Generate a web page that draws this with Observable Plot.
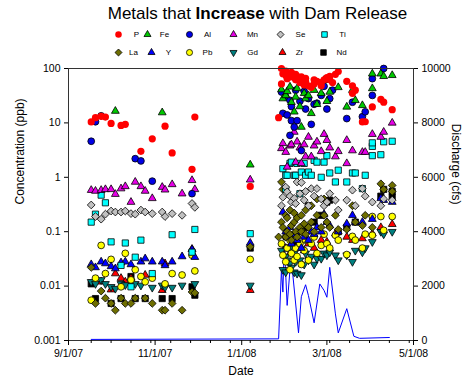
<!DOCTYPE html>
<html><head><meta charset="utf-8">
<script src="https://cdn.jsdelivr.net/npm/d3@7"></script>
<script src="https://cdn.jsdelivr.net/npm/@observablehq/plot@0.6"></script>
<style>
body{margin:0;background:#fff;font-family:"Liberation Sans",Arial,sans-serif;}
#wrap{position:relative;width:465px;height:382px;overflow:hidden;}
#wrap svg{position:absolute;left:0;top:0;}
#title{position:absolute;top:4px;left:0;width:515px;text-align:center;font-size:17px;color:#000;z-index:3;white-space:nowrap;}
</style></head><body>
<div id="wrap"><div id="title">Metals that <b>Increase</b> with Dam Release</div></div>
<script>
// ---------- data ----------
const xTickLabels = ["9/1/07", "11/1/07", "1/1/08", "3/1/08", "5/1/08"];
const yTicks = [0.001, 0.01, 0.1, 1, 10, 100];
const dischargeTicks = [0, 2000, 4000, 6000, 8000, 10000];
const seriesNames = ["P", "Fe", "Al", "Mn", "Se", "Ti", "La", "Y", "Pb", "Gd", "Zr", "Nd"];

const P = [["9/17/07",10.4],["9/20/07",12.5],["9/24/07",13.2],["9/27/07",12.8],["10/1/07",9.8],["10/8/07",9.0],["10/11/07",9.4],["10/22/07",3.0],["10/30/07",5.1],["11/8/07",8.7],["11/13/07",2.8],["11/27/07",1.4],["11/29/07",12.8],["1/7/08",0.68],
["1/27/08",12.5],["1/29/08",100],["1/29/08",52],["1/30/08",80],["2/1/08",75],["2/1/08",90],["2/2/08",65],["2/2/08",80],["2/4/08",70],["2/5/08",85],["2/5/08",72],["2/7/08",68],["2/8/08",62],["2/8/08",78],["2/9/08",72],["2/11/08",55],["2/12/08",60],["2/12/08",70],["2/14/08",50],["2/15/08",66],["2/15/08",58],["2/17/08",48],["2/19/08",45],["2/21/08",52],["2/21/08",62],["2/23/08",58],["2/26/08",48],["2/26/08",55],["2/28/08",62],["3/1/08",68],["3/3/08",72],["3/3/08",62],["3/5/08",55],["3/7/08",78],["3/9/08",88],["3/15/08",58],["3/19/08",48],["3/19/08",35],["3/21/08",40],["3/26/08",10.4],["3/28/08",10.5],["4/2/08",19.7],["4/8/08",27],["4/10/08",24],["4/16/08",17.5]];
const Fe = [["10/4/07",16.5],["11/6/07",15.5],["1/7/08",1.7],
["1/29/08",41],["1/30/08",28],["2/1/08",32],["2/2/08",38],["2/4/08",46],["2/5/08",24],["2/7/08",16],["2/8/08",30],["2/9/08",43],["2/11/08",20],["2/12/08",8.4],["2/14/08",35],["2/15/08",28],["2/17/08",32],["2/19/08",15],["2/21/08",40],["2/23/08",22],["2/26/08",35],["2/28/08",61],["3/1/08",25],["3/3/08",37],["3/9/08",45],["3/15/08",19.7],["3/19/08",40],["3/21/08",26],["3/26/08",21],["4/2/08",80],["4/2/08",43],["4/8/08",80],["4/10/08",72],["4/16/08",75]];
const Al = [["9/17/07",4.6],["9/20/07",10.5],["9/24/07",13.5],["10/18/07",2.2],["10/22/07",2.0],["10/30/07",0.85],["11/27/07",0.5],
["1/29/08",37],["1/30/08",15],["2/1/08",30],["2/2/08",14],["2/4/08",26],["2/4/08",5.9],["2/5/08",11],["2/5/08",20],["2/7/08",8.4],["2/8/08",40],["2/9/08",11],["2/11/08",25],["2/12/08",3.1],["2/14/08",38],["2/15/08",18],["2/17/08",28],["2/19/08",9.4],["2/21/08",22],["2/23/08",23],["2/26/08",32],["2/28/08",47],["3/1/08",18],["3/3/08",28],["3/5/08",40],["3/15/08",12],["3/19/08",24],["3/26/08",13],["3/28/08",16],["4/2/08",65],["4/2/08",32],["4/10/08",100]];
const Mn = [["9/17/07",0.58],["9/20/07",0.56],["9/24/07",0.58],["9/27/07",0.6],["10/1/07",0.6],["10/4/07",0.49],["10/8/07",0.62],["10/11/07",0.68],["10/15/07",0.35],["10/18/07",0.82],["10/22/07",0.68],["10/25/07",0.56],["10/30/07",0.41],["11/6/07",0.66],["11/8/07",0.59],["11/13/07",0.74],["11/20/07",0.5],["11/27/07",0.88],["11/29/07",0.6],["1/7/08",0.9],
["1/29/08",3.4],["1/30/08",4.2],["2/1/08",2.9],["2/2/08",1.55],["2/4/08",3.8],["2/5/08",4.0],["2/7/08",6.8],["2/8/08",1.9],["2/9/08",4.5],["2/11/08",3.5],["2/12/08",1.8],["2/14/08",4.0],["2/15/08",2.4],["2/17/08",5.5],["2/19/08",2.4],["2/21/08",3.8],["2/23/08",4.5],["2/26/08",3.0],["2/28/08",6.2],["3/1/08",4.8],["3/3/08",3.5],["3/7/08",2.4],["3/9/08",3.0],["3/15/08",4.8],["3/15/08",1.8],["3/19/08",3.1],["3/26/08",2.9],["3/28/08",2.9],["4/2/08",6.2],["4/8/08",5.5],["4/10/08",6.8],["4/16/08",10]];
const Se = [["9/17/07",0.31],["9/20/07",0.19],["9/24/07",0.17],["9/27/07",0.21],["10/1/07",0.24],["10/4/07",0.23],["10/8/07",0.23],["10/11/07",0.24],["10/15/07",0.215],["10/18/07",0.21],["10/22/07",0.25],["10/25/07",0.23],["10/30/07",0.215],["11/6/07",0.23],["11/8/07",0.19],["11/13/07",0.215],["11/20/07",0.2],["11/27/07",0.33],["11/29/07",0.28],
["1/29/08",0.3],["1/30/08",0.43],["2/1/08",0.66],["2/2/08",0.54],["2/4/08",0.45],["2/5/08",0.35],["2/7/08",0.41],["2/8/08",0.33],["2/9/08",0.82],["2/11/08",0.5],["2/12/08",0.8],["2/14/08",0.38],["2/15/08",0.55],["2/17/08",0.3],["2/19/08",0.62],["2/21/08",0.45],["2/23/08",0.62],["2/26/08",0.4],["2/28/08",0.3],["3/1/08",0.35],["3/3/08",0.5],["3/7/08",0.38],["3/9/08",0.25],["3/15/08",0.38],["3/19/08",0.58],["3/21/08",0.3],["3/26/08",0.62],["3/28/08",0.45],["4/2/08",0.35],["4/8/08",0.3],["4/10/08",0.4],["4/16/08",0.38]];
const Ti = [["9/17/07",0.15],["9/20/07",0.21],["9/24/07",0.47],["9/27/07",0.34],["10/1/07",0.065],["10/8/07",0.024],["10/11/07",0.062],["10/15/07",0.0097],["10/18/07",0.034],["10/22/07",0.07],["10/30/07",0.017],["11/13/07",0.088],["11/27/07",0.042],["11/29/07",0.11],["1/7/08",0.092],
["1/30/08",1.44],["2/1/08",1.09],["2/1/08",0.6],["2/2/08",1.09],["2/4/08",1.8],["2/5/08",1.9],["2/7/08",1.09],["2/8/08",1.09],["2/9/08",1.8],["2/11/08",0.5],["2/12/08",1.25],["2/14/08",1.8],["2/15/08",1.09],["2/17/08",1.25],["2/19/08",1.09],["2/21/08",2.05],["2/23/08",1.9],["2/26/08",1.0],["2/28/08",1.9],["3/1/08",2.5],["3/3/08",1.2],["3/7/08",0.82],["3/9/08",1.35],["3/15/08",0.82],["3/19/08",1.2],["3/21/08",1.2],["3/26/08",0.62],["3/28/08",1.09],["4/2/08",2.5],["4/2/08",3.7],["4/2/08",4.3],["4/8/08",2.6],["4/10/08",4.5],["4/16/08",4.6]];
const La = [["9/17/07",0.022],["9/20/07",0.0048],["9/24/07",0.0081],["9/27/07",0.006],["10/1/07",0.0048],["10/4/07",0.0036],["10/8/07",0.006],["10/11/07",0.0048],["10/15/07",0.0048],["10/18/07",0.006],["10/25/07",0.006],["10/30/07",0.0048],["11/6/07",0.0036],["11/8/07",0.0036],["11/13/07",0.0048],["11/20/07",0.0036],["11/27/07",0.0078],["11/29/07",0.0075],["1/7/08",0.053],
["1/27/08",0.08],["1/29/08",0.82],["1/29/08",0.15],["1/30/08",0.6],["1/30/08",0.12],["2/1/08",0.2],["2/1/08",0.08],["2/2/08",0.1],["2/2/08",0.18],["2/4/08",0.25],["2/4/08",0.09],["2/5/08",0.13],["2/5/08",0.07],["2/7/08",0.15],["2/7/08",0.22],["2/8/08",0.1],["2/9/08",0.18],["2/9/08",0.08],["2/11/08",0.12],["2/12/08",0.2],["2/12/08",0.1],["2/14/08",0.14],["2/15/08",0.09],["2/15/08",0.25],["2/17/08",0.12],["2/19/08",0.3],["2/19/08",0.15],["2/21/08",0.1],["2/23/08",0.4],["2/23/08",0.2],["2/26/08",0.12],["2/28/08",0.4],["2/28/08",0.2],["3/1/08",0.15],["3/3/08",0.12],["3/7/08",0.2],["3/9/08",0.11],["3/15/08",0.11],["3/19/08",0.3],["3/21/08",0.15],["3/26/08",0.13],["3/28/08",0.2],["4/2/08",0.12],["4/8/08",0.76],["4/10/08",0.6],["4/16/08",0.71],["4/16/08",0.55]];
const Yt = [["9/17/07",0.025],["9/20/07",0.022],["9/24/07",0.028],["9/27/07",0.026],["10/1/07",0.023],["10/4/07",0.021],["10/8/07",0.027],["10/11/07",0.028],["10/15/07",0.025],["10/22/07",0.028],["10/25/07",0.032],["10/30/07",0.028],["11/6/07",0.028],["11/8/07",0.024],["11/13/07",0.028],["11/20/07",0.035],["11/27/07",0.047],["11/29/07",0.034],["1/7/08",0.062],
["1/30/08",0.23],["2/1/08",0.1],["2/2/08",0.08],["2/4/08",0.12],["2/5/08",0.06],["2/7/08",0.09],["2/9/08",0.07],["2/11/08",0.1],["2/12/08",0.05],["2/14/08",0.08],["2/17/08",0.07],["2/19/08",0.1],["2/21/08",0.09],["2/23/08",0.12],["2/26/08",0.1],["2/28/08",0.21],["3/1/08",0.15],["3/3/08",0.13],["3/9/08",0.1],["3/15/08",0.14],["3/19/08",0.2],["3/21/08",0.15],["3/26/08",0.15],["4/2/08",0.17],["4/8/08",0.41],["4/10/08",0.38],["4/16/08",0.35]];
const Pb = [["9/17/07",0.0055],["9/20/07",0.014],["9/24/07",0.056],["9/27/07",0.017],["10/1/07",0.031],["10/8/07",0.0097],["10/11/07",0.04],["10/15/07",0.013],["10/18/07",0.02],["10/22/07",0.015],["10/25/07",0.012],["10/30/07",0.014],["11/8/07",0.011],["11/13/07",0.017],["11/20/07",0.016],["11/27/07",0.037],["11/29/07",0.019],["1/7/08",0.031],
["1/29/08",0.06],["1/30/08",0.037],["2/1/08",0.028],["2/1/08",0.08],["2/2/08",0.05],["2/4/08",0.02],["2/4/08",0.07],["2/5/08",0.04],["2/7/08",0.03],["2/7/08",0.09],["2/8/08",0.05],["2/9/08",0.035],["2/11/08",0.06],["2/12/08",0.025],["2/12/08",0.1],["2/14/08",0.045],["2/15/08",0.07],["2/17/08",0.03],["2/19/08",0.06],["2/21/08",0.08],["2/23/08",0.04],["2/26/08",0.056],["2/28/08",0.09],["3/1/08",0.06],["3/3/08",0.05],["3/7/08",0.086],["3/9/08",0.07],["3/15/08",0.038],["3/19/08",0.082],["3/21/08",0.07],["3/26/08",0.05],["3/28/08",0.09],["4/2/08",0.19],["4/2/08",0.086],["4/8/08",0.19],["4/10/08",0.106],["4/16/08",0.19]];
const Gd = [["9/17/07",0.012],["9/20/07",0.011],["9/24/07",0.013],["9/27/07",0.011],["10/1/07",0.0097],["10/4/07",0.009],["10/8/07",0.011],["10/11/07",0.0105],["10/15/07",0.012],["10/18/07",0.011],["10/22/07",0.0103],["10/30/07",0.0094],["11/6/07",0.0103],["11/8/07",0.0095],["11/13/07",0.0094],["11/20/07",0.0103],["11/29/07",0.011],["1/7/08",0.0103],
["1/29/08",0.045],["1/30/08",0.02],["2/1/08",0.035],["2/1/08",0.018],["2/2/08",0.03],["2/4/08",0.026],["2/4/08",0.05],["2/5/08",0.022],["2/7/08",0.018],["2/7/08",0.04],["2/8/08",0.028],["2/9/08",0.017],["2/11/08",0.03],["2/12/08",0.016],["2/14/08",0.025],["2/15/08",0.04],["2/17/08",0.03],["2/19/08",0.035],["2/21/08",0.025],["2/23/08",0.032],["2/26/08",0.032],["2/28/08",0.04],["3/1/08",0.037],["3/3/08",0.042],["3/7/08",0.037],["3/9/08",0.03],["3/15/08",0.037],["3/19/08",0.028],["3/21/08",0.045],["3/26/08",0.042],["3/28/08",0.05],["4/2/08",0.065],["4/8/08",0.1],["4/10/08",0.09],["4/16/08",0.1]];
const Zr = [["9/24/07",0.012],["10/1/07",0.0086],["10/4/07",0.017],["10/8/07",0.014],["10/11/07",0.012],["10/15/07",0.014],["10/25/07",0.016],["11/6/07",0.0084],["11/8/07",0.026],["11/27/07",0.048],["1/7/08",0.0084],
["2/1/08",0.05],["2/4/08",0.04],["2/5/08",0.06],["2/8/08",0.035],["2/11/08",0.05],["2/14/08",0.045],["2/17/08",0.06],["2/21/08",0.05],["2/26/08",0.07],["3/1/08",0.065],["3/7/08",0.092],["3/15/08",0.08],["3/19/08",0.07],["3/26/08",0.075],["4/2/08",0.092],["4/8/08",0.12],["4/16/08",0.137]];
const Nd = [["9/17/07",0.011],["9/20/07",0.0059],["10/1/07",0.0048],["10/8/07",0.0059],["10/15/07",0.015],["10/18/07",0.0059],["10/25/07",0.0059],["11/6/07",0.0059],["11/13/07",0.0059],["11/27/07",0.0097],["11/29/07",0.0068],["1/7/08",0.05],
["2/1/08",0.05],["2/4/08",0.08],["2/7/08",0.06],["2/12/08",0.1],["2/15/08",0.12],["2/17/08",0.3],["2/21/08",0.15],["2/26/08",0.2],["3/1/08",0.35],["3/3/08",0.38],["3/9/08",0.1],["3/15/08",0.12],["3/21/08",0.15],["4/8/08",0.45],["4/10/08",0.6],["4/16/08",0.55],["4/16/08",0.43]];
const discharge = [["9/17/07",40],["1/27/08",60],["1/29/08",2620],["1/30/08",1780],["1/31/08",3560],["2/2/08",1290],["2/4/08",2600],["2/6/08",2420],["2/10/08",280],["2/12/08",1610],["2/15/08",2050],["2/17/08",1650],["2/21/08",650],["2/25/08",2080],["2/28/08",1840],["3/1/08",1590],["3/3/08",2690],["3/7/08",980],["3/9/08",280],["3/15/08",1170],["3/20/08",155],["3/24/08",80],["4/14/08",110]];

// ---------- styling (kept apart from data) ----------
const parse = d3.utcParse("%m/%d/%y");
const series = [P, Fe, Al, Mn, Se, Ti, La, Yt, Pb, Gd, Zr, Nd];
const triDown = {draw(ctx, size) {
  const y = Math.sqrt(size / (Math.sqrt(3) * 3));
  ctx.moveTo(0, 2 * y); ctx.lineTo(Math.sqrt(3) * y, -y); ctx.lineTo(-Math.sqrt(3) * y, -y); ctx.closePath();
}};
const symbols = ["circle", "triangle", "circle", "triangle", "diamond2", "square", "diamond2", "triangle", "circle", triDown, "triangle", "square"];
const fills = ["#ff0000", "#00c800", "#0000e6", "#e600e6", "#c0c0c0", "#00ffff", "#6e6e00", "#0000ff", "#ffff00", "#008080", "#ff0000", "#000000"];
const strokes = ["none", "#000", "#000", "#000", "#000", "#000", "#000", "#000", "#000", "#000", "#000", "#000"];
const radii = [3.6, 2.9, 3.4, 2.9, 3.5, 3.5, 3.5, 2.9, 3.4, 2.9, 2.9, 3.5];
const legendMarkX = [118, 147, 189, 233, 280, 324, 118, 151, 189, 233, 282, 323];
const legendLabelX = [136, 164, 207, 252, 300, 342, 133, 168, 207, 252, 299, 341];
const legendRowY = [34, 52];

const toLogPos = q => Math.pow(10, -3 + 5 * q / 10000);
const fromLogPos = v => Math.round((Math.log10(v) + 3) / 5 * 10000);

// minor date ticks every 14 days
const minorTicks = d3.utcDays(parse("9/17/07"), parse("5/1/08"), 14);

const font = "Liberation Sans, Arial, sans-serif";
const dotMarks = [];
for (let i = series.length - 1; i >= 0; --i) {
  dotMarks.push(Plot.dot(series[i], {
    x: d => parse(d[0]), y: d => d[1], symbol: symbols[i], r: radii[i],
    fill: fills[i], stroke: strokes[i], strokeWidth: 0.8
  }));
}

const chart = Plot.plot({
  width: 465, height: 382,
  marginTop: 68, marginBottom: 42, marginLeft: 68, marginRight: 52,
  style: {fontFamily: font, fontSize: "10.5px", background: "transparent", color: "#000"},
  x: {type: "utc", domain: [parse("9/1/07"), parse("5/1/08")]},
  y: {type: "log", domain: [0.001, 100]},
  marks: [
    Plot.line(discharge, {x: d => parse(d[0]), y: d => toLogPos(d[1]), stroke: "#0000ff", strokeWidth: 1}),
    ...dotMarks,
    Plot.frame({stroke: "#333"}),
    Plot.axisX({ticks: minorTicks, tickSize: 3, tickFormat: () => "", label: null}),
    Plot.axisX({ticks: xTickLabels.map(parse), tickFormat: d3.utcFormat("%-m/%-d/%y"), tickSize: 5, tickPadding: 4, label: null}),
    Plot.axisY({ticks: yTicks, tickFormat: d => String(d), tickSize: 4, tickPadding: 4, label: null}),
    Plot.axisY({anchor: "right", ticks: dischargeTicks.map(toLogPos), tickFormat: d => String(fromLogPos(d)), tickSize: 4, tickPadding: 4, label: null}),
    Plot.text(["Concentration (ppb)"], {text: d => d, frameAnchor: "left", rotate: -90, dx: -48, fontSize: 12}),
    Plot.text(["Discharge (cfs)"], {text: d => d, frameAnchor: "right", rotate: 90, dx: 42, fontSize: 12}),
    Plot.text(["Date"], {text: d => d, frameAnchor: "bottom", dy: 34, fontSize: 12})
  ]
});

const legendMarks = [];
seriesNames.forEach((name, i) => {
  const row = i < 6 ? 0 : 1;
  legendMarks.push(Plot.dot([name], {x: () => legendMarkX[i], y: () => legendRowY[row], symbol: symbols[i], r: radii[i] * 0.9, fill: fills[i], stroke: strokes[i], strokeWidth: 0.8}));
  legendMarks.push(Plot.text([name], {x: () => legendLabelX[i], y: () => legendRowY[row], text: d => d, fontSize: 8}));
});
const legend = Plot.plot({
  width: 465, height: 62, margin: 0,
  style: {fontFamily: font, background: "transparent", color: "#000"},
  x: {type: "identity", axis: null}, y: {type: "identity", axis: null},
  marks: legendMarks
});

const wrap = document.getElementById("wrap");
wrap.appendChild(chart);
wrap.appendChild(legend);
</script>
</body></html>
